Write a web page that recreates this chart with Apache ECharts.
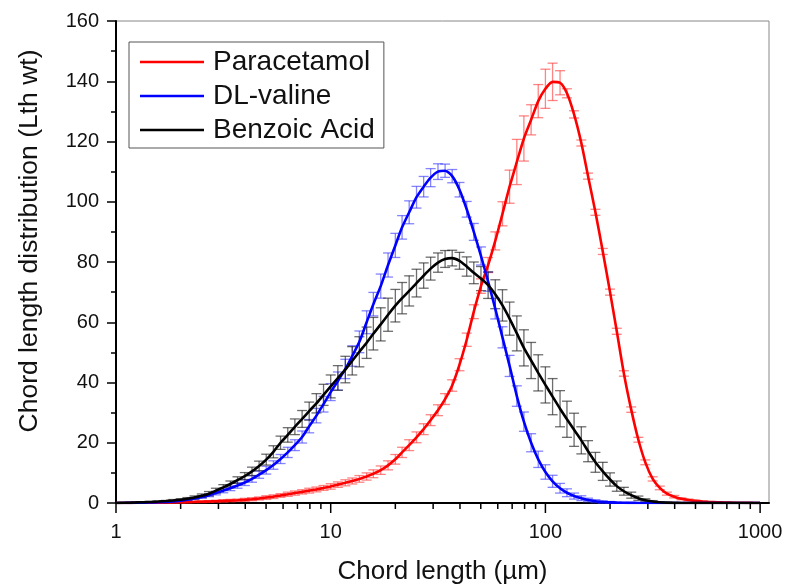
<!DOCTYPE html>
<html><head><meta charset="utf-8">
<script src="https://cdn.jsdelivr.net/npm/echarts@6/dist/echarts.min.js"></script>
<style>html,body{margin:0;padding:0;background:#fff}#c{width:785px;height:584px}</style>
</head><body><div id="c"></div>
<script>
const xVals = [1.00,1.08,1.17,1.26,1.36,1.47,1.58,1.71,1.85,2.00,
 2.15,2.32,2.51,2.71,2.92,3.16,3.41,3.68,3.98,4.30,
 4.64,5.01,5.41,5.84,6.31,6.81,7.36,7.94,8.58,9.26,
 10.0,10.8,11.7,12.6,13.6,14.7,15.8,17.1,18.5,20.0,
 21.5,23.2,25.1,27.1,29.2,31.6,34.1,36.8,39.8,43.0,
 46.4,50.1,54.1,58.4,63.1,68.1,73.6,79.4,85.8,92.6,
 100,108,117,126,136,147,158,171,185,200,
 215,232,251,271,292,316,341,368,398,430,
 464,501,541,584,631,681,736,794,858,926,
 1000];

const paracetamol = [0.00,0.02,0.04,0.06,0.08,0.10,0.13,0.16,0.20,0.25,
 0.30,0.36,0.43,0.50,0.60,0.70,0.80,0.90,1.05,1.25,
 1.5,1.8,2.1,2.5,2.9,3.3,3.7,4.1,4.5,5.0,
 5.5,6.1,6.7,7.3,8.0,8.8,9.7,10.9,12.5,14.5,
 16.8,19.2,21.8,24.5,27.5,30.8,34.5,39.0,45.9,54.2,
 63.5,72,79,87,96,105,113.2,121,127.2,133.4,
 137.5,139.8,139.5,136,129,119.5,108.5,96.5,83.5,70,
 57,43,31,21,13.5,8.0,5.0,3.1,2.1,1.4,
 1.0,0.7,0.5,0.35,0.25,0.18,0.12,0.08,0.05,0.03,
 0.02];
const paracetamolErr = [0,0,0,0,0,0.1,0.1,0.1,0.1,0.2,
 0.2,0.2,0.3,0.3,0.3,0.4,0.4,0.4,0.5,0.5,
 0.5,0.6,0.6,0.6,0.7,0.7,0.7,0.8,0.8,0.8,
 0.9,0.9,1.0,1.0,1.1,1.2,1.3,1.4,1.5,1.6,
 1.7,1.8,1.8,1.8,1.8,1.8,1.8,1.9,2.0,2.2,
 2.3,2.4,2.5,3.0,4.0,5.5,7.5,7.5,5.0,5.5,
 6.5,6.2,4.0,1.5,1.2,1.0,1.0,1.0,1.0,1.0,
 1.0,0.9,0.9,0.8,0.8,0.7,0.6,0.5,0.4,0.3,
 0.3,0.2,0.2,0.1,0.1,0.1,0.1,0,0,0,
 0];

const valine = [0,0.02,0.05,0.08,0.12,0.18,0.26,0.38,0.55,0.8,
 1.1,1.5,2.0,2.6,3.3,4.1,4.9,5.8,6.8,8.0,
 9.4,10.9,12.6,14.6,16.8,19.2,21.9,25.5,29.0,32.8,
 36.8,40.5,44.5,48.8,53.5,60,66,72,79,85.5,
 91.5,96.5,101.5,105,108,110,110.3,108.5,104,97.5,
 90,82,73.5,64.5,55,45.5,35.5,27,20,14.5,
 10.3,7.2,4.9,3.4,2.3,1.6,1.0,0.6,0.35,0.2,
 0.12,0.07,0.04,0.02,0.01,0,0,0,0,0,
 0,0,0,0,0,0,0,0,0,0,
 0];
const valineErr = [0,0,0,0,0,0.1,0.1,0.1,0.2,0.2,
 0.3,0.3,0.4,0.5,0.6,0.7,0.8,0.9,1.0,1.1,
 1.2,1.3,1.4,1.5,1.7,1.8,2.0,2.2,2.4,2.6,
 2.8,3.0,3.2,3.4,3.6,3.8,3.9,4.0,4.0,4.0,
 3.9,3.8,3.6,3.4,3.0,2.6,2.2,2.2,2.4,2.6,
 2.8,3.0,3.2,3.4,3.5,3.5,3.4,3.2,3.0,2.7,
 2.4,2.0,1.6,1.3,1.0,0.8,0.6,0.5,0.4,0.3,
 0.2,0.1,0.1,0,0,0,0,0,0,0,
 0,0,0,0,0,0,0,0,0,0,
 0];

const benzoic = [0,0.06,0.12,0.2,0.28,0.38,0.5,0.65,0.85,1.1,
 1.4,1.85,2.4,3.1,4.1,5.2,6.3,7.6,8.9,10.5,
 12.3,14.4,17.0,20.0,22.6,25.3,27.9,30.5,33.1,35.9,
 38.7,41.5,44.3,47.2,50.2,53.2,56.2,59.3,62.5,65.5,
 68,70.4,73,75.5,77.8,79.8,81,81.3,80.4,78.5,
 76.4,74.5,72.3,69.3,65.6,61.2,56.3,51.5,47.3,43.2,
 39.2,35.3,31.3,27.8,24.3,20.8,17.2,13.5,10.5,7.8,
 5.6,3.9,2.6,1.6,0.9,0.5,0.25,0.12,0.05,0.02,
 0,0,0,0,0,0,0,0,0,0,
 0];
const benzoicErr = [0,0,0,0,0.1,0.1,0.2,0.2,0.3,0.3,
 0.4,0.5,0.6,0.7,0.8,0.9,1.0,1.1,1.2,1.4,
 1.6,1.8,2.0,2.2,2.4,2.6,2.8,3.0,3.2,3.5,
 3.8,4.1,4.4,4.7,5.0,5.2,5.4,5.5,5.5,5.4,
 5.2,5.0,4.6,4.2,3.8,3.2,2.8,2.6,2.8,3.2,
 3.6,4.0,4.4,4.8,5.2,5.5,5.8,6.0,6.0,6.0,
 6.0,6.0,6.0,6.0,5.5,4.5,3.5,3.3,3.0,2.2,
 1.7,1.3,1.0,0.7,0.5,0.3,0.2,0.1,0,0,
 0,0,0,0,0,0,0,0,0,0,
 0];

const majorXTicks = [1,10,100,1000];
const minorXTicks = [2,3,4,5,6,7,8,9,20,30,40,50,60,70,80,90,200,300,400,500,600,700,800,900];
const seriesNames = ['Paracetamol','DL-valine','Benzoic Acid'];
const yTitle = 'Chord length distribution (Lth wt)';
const xTitle = 'Chord length (µm)';

const FONT = '"Liberation Sans", Arial, sans-serif';
const chart = echarts.init(document.getElementById('c'), null, {renderer:'canvas'});

function pairs(ys){ return xVals.map((x,i)=>[x, ys[i]]); }
function errSeries(ys, es, color){
  return {
    type:'custom', silent:true, z:2, clip:false,
    data: xVals.map((x,i)=>[x, ys[i]-es[i], ys[i]+es[i], es[i]]),
    encode:{x:0, y:[1,2]},
    renderItem:(params, api)=>{
      const e = api.value(3); if (e < 0.05) return null;
      const x = api.value(0);
      const lo = api.coord([x, api.value(1)]);
      const hi = api.coord([x, api.value(2)]);
      const w = 5, st = {stroke:color, lineWidth:1.3};
      return {type:'group', children:[
        {type:'line', shape:{x1:lo[0],y1:lo[1],x2:hi[0],y2:hi[1]}, style:st},
        {type:'line', shape:{x1:lo[0]-w,y1:lo[1],x2:lo[0]+w,y2:lo[1]}, style:st},
        {type:'line', shape:{x1:hi[0]-w,y1:hi[1],x2:hi[0]+w,y2:hi[1]}, style:st}
      ]};
    }
  };
}
function tickSeries(vals, len){
  return {
    type:'custom', silent:true, z:5, clip:false,
    data: vals.map(v=>[v,0]),
    encode:{x:0, y:1},
    renderItem:(params, api)=>{
      const p = api.coord([api.value(0), 0]);
      return {type:'line', shape:{x1:p[0],y1:p[1]+1,x2:p[0],y2:p[1]+len},
        style:{stroke:'#000', lineWidth:1.5}};
    }
  };
}
function lineSeries(name, ys, color){
  return {type:'line', name, data:pairs(ys), showSymbol:false, symbol:'none', z:3, smooth:0.25,
    lineStyle:{color, width:2.6}, itemStyle:{color}};
}

chart.setOption({
  animation:false,
  backgroundColor:'#fff',
  textStyle:{fontFamily:FONT},
  grid:{left:116, right:16, top:21, bottom:81, show:true, borderColor:'#888', borderWidth:1,
    containLabel:false, outerBoundsMode:'none'},
  legend:{
    data:seriesNames, orient:'vertical', left:129, top:42,
    padding:[6,9,4,11], itemGap:6, itemWidth:64, itemHeight:2.5, icon:'rect',
    borderColor:'#555', borderWidth:1, backgroundColor:'#fff',
    textStyle:{fontSize:28, color:'#111', fontFamily:FONT, padding:[0,0,0,4]}
  },
  xAxis:{
    type:'log', logBase:10, min:1, max:1100,
    axisLine:{show:true, lineStyle:{color:'#000', width:2}},
    axisTick:{show:false}, splitLine:{show:false}, minorTick:{show:false},
    axisLabel:{fontSize:20, color:'#111', margin:19, fontFamily:FONT,
      formatter:(v)=>{const l=Math.log10(v); return Math.abs(l-Math.round(l))<1e-6 ? String(Math.round(v)) : '';}},
    name:xTitle, nameLocation:'middle', nameGap:56,
    nameTextStyle:{fontSize:26, color:'#111', fontFamily:FONT}
  },
  yAxis:{
    type:'value', min:0, max:160, interval:20,
    axisLine:{show:true, lineStyle:{color:'#000', width:2}},
    axisTick:{show:true, inside:false, length:9, lineStyle:{color:'#000', width:1.5}},
    minorTick:{show:true, splitNumber:2, length:5, lineStyle:{color:'#000', width:1.5}},
    splitLine:{show:false},
    axisLabel:{fontSize:20, color:'#111', margin:17, fontFamily:FONT}
  },
  graphic:[{type:'text', x:30, y:241, rotation:Math.PI/2,
    style:{text:yTitle, fontSize:26.5, fontFamily:FONT, fill:'#111', align:'center', verticalAlign:'middle'}}],
  series:[
    errSeries(paracetamol, paracetamolErr, 'rgba(255,50,50,0.6)'),
    errSeries(valine, valineErr, 'rgba(50,50,255,0.6)'),
    errSeries(benzoic, benzoicErr, 'rgba(30,30,30,0.65)'),
    lineSeries(seriesNames[0], paracetamol, '#ff0000'),
    lineSeries(seriesNames[1], valine, '#0000ff'),
    lineSeries(seriesNames[2], benzoic, '#000000'),
    tickSeries(majorXTicks, 10),
    tickSeries(minorXTicks, 6)
  ]
});
</script></body></html>
